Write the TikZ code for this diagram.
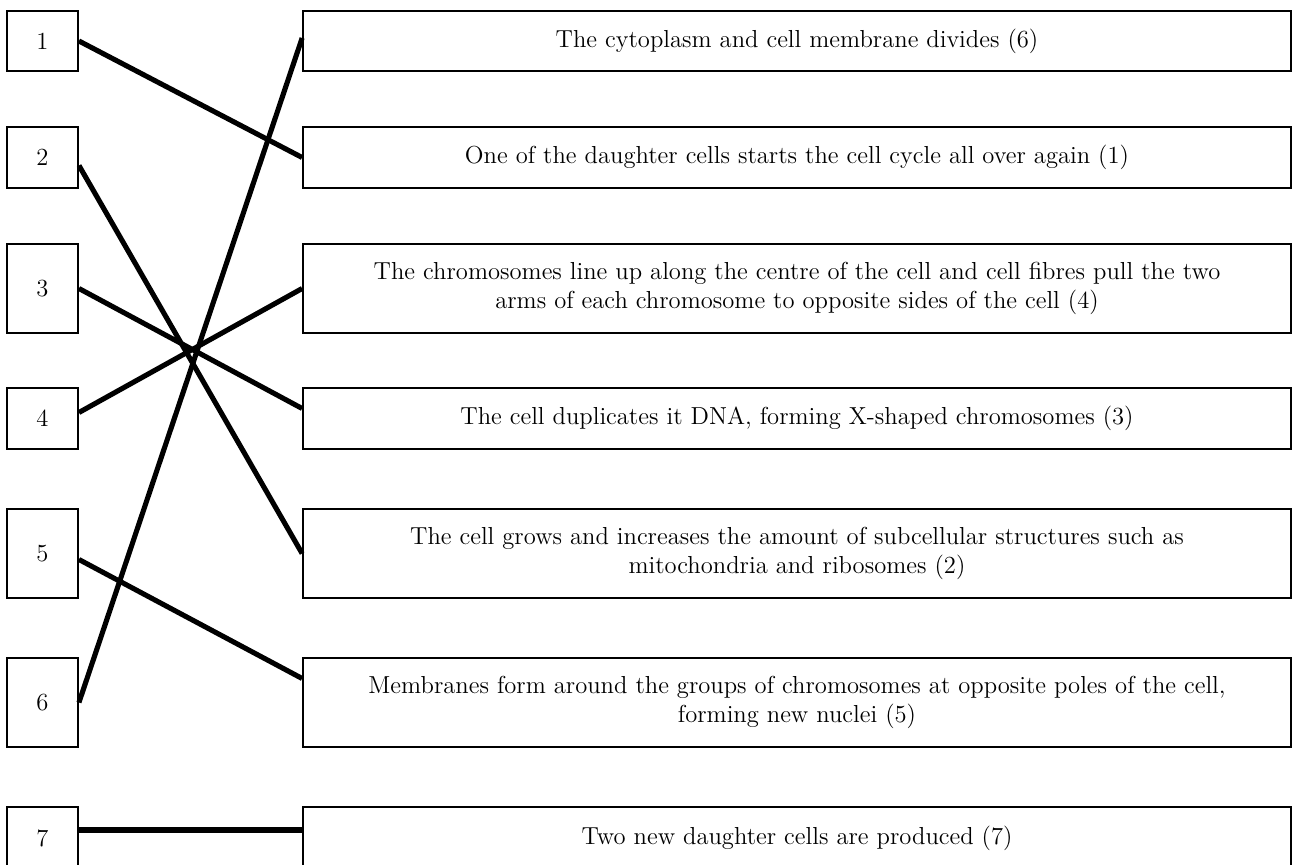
\documentclass[tikz,border=0pt]{standalone}
\usetikzlibrary{calc}
\begin{document}
\begin{tikzpicture}[x=0.02cm,y=-0.02cm,
    numbox/.style={draw,line width=1.1pt,minimum width=1.42cm,inner sep=0pt,font=\fontsize{14}{16.5}\selectfont},
    stepbox/.style={draw,line width=1.1pt,minimum width=19.76cm,align=center,inner sep=0pt,font=\fontsize{14}{16.5}\selectfont},
    link/.style={line width=2.9pt}]

    \useasboundingbox (0,0) rectangle (1292,865);
    \clip (0,0) rectangle (1292,865);

    % numbered boxes on the left
    \foreach \n/\y/\h in {1/41/1.2cm, 2/157.5/1.22cm, 3/288.5/1.78cm, 4/418.5/1.22cm,
                          5/553.5/1.78cm, 6/702.5/1.78cm, 7/838/1.24cm}
        \node[numbox,minimum height=\h] (l\n) at (42.5,\y) {\n};

    % steps of the cell cycle on the right
    \node[stepbox,minimum height=1.2cm]  (r1) at (797,41)    {The cytoplasm and cell membrane divides (6)};
    \node[stepbox,minimum height=1.22cm] (r2) at (797,157.5) {One of the daughter cells starts the cell cycle all over again (1)};
    \node[stepbox,minimum height=1.78cm] (r3) at (797,288.5) {The chromosomes line up along the centre of the cell and cell fibres pull the two\\ arms of each chromosome to opposite sides of the cell (4)};
    \node[stepbox,minimum height=1.22cm] (r4) at (797,418.5) {The cell duplicates it DNA, forming X-shaped chromosomes (3)};
    \node[stepbox,minimum height=1.78cm] (r5) at (797,553.5) {The cell grows and increases the amount of subcellular structures such as\\ mitochondria and ribosomes (2)};
    \node[stepbox,minimum height=1.78cm] (r6) at (797,702.5) {Membranes form around the groups of chromosomes at opposite poles of the cell,\\ forming new nuclei (5)};
    \node[stepbox,minimum height=1.24cm] (r7) at (797,838)   {Two new daughter cells are produced (7)};

    % matching lines
    \draw[link] (l1.east) -- (r2.west);
    \draw[link] ($(l2.east)+(0,8)$) -- (r5.west);
    \draw[link] (l3.east) -- ($(r4.west)+(0,-10)$);
    \draw[link] ($(l4.east)+(0,-6)$) -- (r3.west);
    \draw[link] ($(l5.east)+(0,6)$) -- ($(r6.west)+(0,-24)$);
    \draw[link] (l6.east) -- ($(r1.west)+(0,-3)$);
    \draw[link] ($(l7.east)+(0,-8)$) -- ($(r7.west)+(0,-8)$);
\end{tikzpicture}
\end{document}
